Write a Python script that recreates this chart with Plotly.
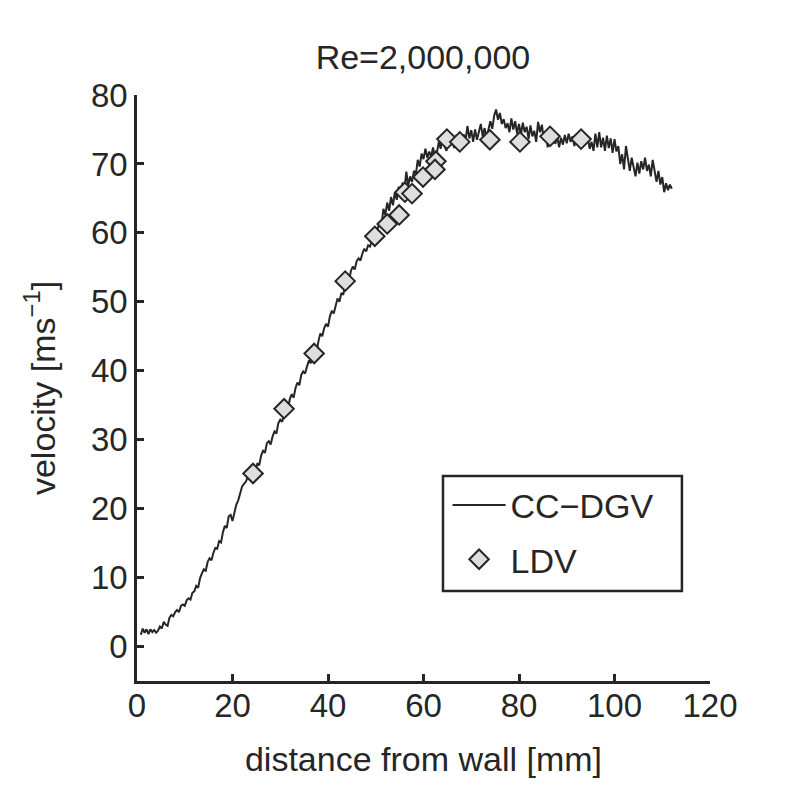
import plotly.graph_objects as go

# CC-DGV profile
dgv_x = [
    0.8, 1.2, 1.6, 2.0, 2.4, 2.8, 3.2, 3.6, 4.0, 4.4, 4.8, 5.2, 5.6, 6.0, 6.4, 6.8, 7.2, 7.6, 8.0, 8.4,
    8.8, 9.2, 9.6, 10.0, 10.4, 10.8, 11.2, 11.6, 12.0, 12.4, 12.8, 13.2, 13.6, 14.0, 14.4, 14.8, 15.2, 15.6, 16.0, 16.4,
    16.8, 17.2, 17.6, 18.0, 18.4, 18.8, 19.2, 19.6, 20.0, 20.4, 20.8, 21.2, 21.6, 22.0, 22.4, 22.8, 23.2, 23.6, 24.0, 24.4,
    24.8, 25.2, 25.6, 26.0, 26.4, 26.8, 27.2, 27.6, 28.0, 28.4, 28.8, 29.2, 29.6, 30.0, 30.4, 30.8, 31.2, 31.6, 32.0, 32.4,
    32.8, 33.2, 33.6, 34.0, 34.4, 34.8, 35.2, 35.6, 36.0, 36.4, 36.8, 37.2, 37.6, 38.0, 38.4, 38.8, 39.2, 39.6, 40.0, 40.4,
    40.8, 41.2, 41.6, 42.0, 42.4, 42.8, 43.2, 43.6, 44.0, 44.4, 44.8, 45.2, 45.6, 46.0, 46.4, 46.8, 47.2, 47.6, 48.0, 48.4,
    48.8, 49.2, 49.6, 50.0, 50.4, 50.8, 51.2, 51.6, 52.0, 52.4, 52.8, 53.2, 53.6, 54.0, 54.4, 54.8, 55.2, 55.6, 56.0, 56.4,
    56.8, 57.2, 57.6, 58.0, 58.4, 58.8, 59.2, 59.6, 60.0, 60.4, 60.8, 61.2, 61.6, 62.0, 62.4, 62.8, 63.2, 63.6, 64.0, 64.4,
    64.8, 65.2, 65.6, 66.0, 66.4, 66.8, 67.2, 67.6, 68.0, 68.4, 68.8, 69.2, 69.6, 70.0, 70.4, 70.8, 71.2, 71.6, 72.0, 72.4,
    72.8, 73.2, 73.6, 74.0, 74.4, 74.8, 75.2, 75.6, 76.0, 76.4, 76.8, 77.2, 77.6, 78.0, 78.4, 78.8, 79.2, 79.6, 80.0, 80.4,
    80.8, 81.2, 81.6, 82.0, 82.4, 82.8, 83.2, 83.6, 84.0, 84.4, 84.8, 85.2, 85.6, 86.0, 86.4, 86.8, 87.2, 87.6, 88.0, 88.4,
    88.8, 89.2, 89.6, 90.0, 90.4, 90.8, 91.2, 91.6, 92.0, 92.4, 92.8, 93.2, 93.6, 94.0, 94.4, 94.8, 95.2, 95.6, 96.0, 96.4,
    96.8, 97.2, 97.6, 98.0, 98.4, 98.8, 99.2, 99.6, 100.0, 100.4, 100.8, 101.2, 101.6, 102.0, 102.4, 102.8, 103.2, 103.6, 104.0, 104.4,
    104.8, 105.2, 105.6, 106.0, 106.4, 106.8, 107.2, 107.6, 108.0, 108.4, 108.8, 109.2, 109.6, 110.0, 110.4, 110.8, 111.2, 111.6, 112.0,
]
dgv_v = [
    1.7, 2.6, 2.0, 2.5, 1.8, 2.5, 2.1, 2.4, 2.0, 2.3, 2.9, 2.6, 3.6, 3.2, 3.0, 4.2, 4.6, 4.4, 5.0, 5.3,
    5.0, 5.9, 6.1, 5.9, 6.7, 7.0, 6.8, 7.8, 8.0, 8.8, 8.5, 9.9, 10.6, 11.2, 11.0, 12.3, 12.8, 12.5, 13.6, 14.3,
    14.2, 15.3, 15.1, 16.6, 17.5, 17.2, 18.9, 19.1, 18.2, 19.5, 20.6, 21.2, 22.3, 23.2, 23.6, 23.9, 24.6, 24.2, 24.9, 25.5,
    25.2, 26.6, 26.3, 27.7, 28.4, 28.1, 29.5, 29.8, 29.3, 30.5, 31.2, 30.9, 32.4, 32.9, 32.6, 33.9, 34.8, 34.4, 35.9, 36.6,
    36.1, 37.5, 38.3, 37.9, 39.4, 39.9, 39.6, 40.6, 41.5, 41.1, 42.3, 42.9, 42.6, 44.3, 45.4, 45.0, 46.2, 46.8, 46.4, 47.9,
    48.7, 48.3, 49.6, 50.5, 50.0, 51.3, 51.0, 52.6, 53.3, 53.0, 54.5, 55.1, 54.7, 55.9, 56.3, 56.0, 57.0, 57.7, 57.3, 58.2,
    58.0, 59.1, 59.9, 59.5, 60.5, 61.6, 61.0, 63.5, 62.6, 64.4, 63.2, 65.2, 64.0, 65.9, 64.8, 66.7, 65.4, 67.3, 66.1, 68.9,
    66.9, 68.2, 67.4, 69.0, 68.5, 70.6, 69.6, 71.5, 70.7, 72.2, 70.9, 71.8, 71.1, 72.4, 70.8, 71.6, 73.2, 72.2, 74.0, 72.6,
    71.9, 73.5, 72.7, 73.9, 72.3, 74.2, 73.0, 74.6, 73.2, 74.3, 73.4, 75.5, 73.7, 74.9, 73.2, 75.0, 73.5, 74.5, 75.8, 74.0,
    75.2, 73.8, 75.0, 76.2, 75.1, 77.0, 77.9, 76.4, 77.4, 75.8, 76.5, 75.2, 75.9, 74.6, 76.6, 75.0, 76.2, 74.4, 75.8, 74.2,
    76.0, 74.6, 75.4, 73.6, 75.6, 74.0, 74.8, 73.2, 76.1, 74.6, 75.7, 73.4, 74.8, 72.4, 74.4, 73.0, 74.9, 72.9, 74.0, 72.4,
    73.8, 72.8, 74.2, 73.0, 74.4, 73.2, 74.0, 72.6, 73.8, 72.7, 74.1, 72.8, 74.4, 73.0, 73.9, 72.2, 73.2, 71.9, 74.4, 72.4,
    74.6, 72.4, 73.8, 71.9, 74.1, 72.3, 73.7, 71.6, 73.6, 71.8, 72.6, 70.0, 71.4, 69.2, 72.6, 70.4, 69.0, 70.9, 69.6, 68.2,
    70.2, 68.6, 70.4, 69.2, 70.9, 69.0, 69.9, 68.2, 70.6, 68.8, 67.4, 69.0, 67.0, 68.1, 65.9, 67.2, 66.2, 67.0, 66.4,
]

# LDV reference points
ldv_x = [24.3, 30.8, 37.1, 43.6, 49.8, 52.4, 54.9, 56.1, 57.6, 59.9, 62.6, 62.4, 64.9, 67.6, 73.9, 80.2, 86.5, 93.0]
ldv_v = [25.1, 34.5, 42.5, 53.0, 59.5, 61.3, 62.6, 65.9, 65.7, 68.1, 70.4, 69.2, 73.6, 73.2, 73.5, 73.2, 74.0, 73.6]

x_ticks = [0, 20, 40, 60, 80, 100, 120]
y_ticks = [0, 10, 20, 30, 40, 50, 60, 70, 80]

INK = "#262626"

fig = go.Figure()

fig.add_trace(go.Scatter(
    x=dgv_x,
    y=dgv_v,
    mode="lines",
    name="CC\u2212DGV",
    legendgroup="dgv",
    line=dict(color=INK, width=2),
))

fig.add_trace(go.Scatter(
    x=ldv_x,
    y=ldv_v,
    mode="markers",
    name="LDV",
    legendgroup="ldv",
    marker=dict(symbol="diamond", size=15, color="#dcdee0", line=dict(color=INK, width=2)),
))

# legend width does not follow entrywidth here, so the box is a separate rectangle
fig.add_shape(
    type="rect",
    xref="paper",
    yref="paper",
    x0=0.534,
    x1=0.951,
    y0=0.1536,
    y1=0.35,
    line=dict(color=INK, width=2.5),
    fillcolor="white",
)

# page body adds an 8px offset, so the figure is a bit smaller than the window
fig.update_layout(
    width=777,
    height=792,
    margin=dict(l=129, r=75, t=87, b=119),
    paper_bgcolor="white",
    plot_bgcolor="white",
    font=dict(family="Liberation Sans", size=33, color=INK),
    title=dict(
        text="Re=2,000,000",
        font=dict(size=34),
        x=0.534,
        xanchor="center",
        y=0.938,
        yanchor="middle",
    ),
    xaxis=dict(
        title=dict(text="distance from wall [mm]", font=dict(size=34), standoff=24),
        range=[0, 120],
        tickvals=x_ticks,
        ticks="inside",
        ticklen=7,
        tickwidth=2.5,
        tickcolor=INK,
        ticklabelstandoff=-6,
        showline=True,
        linecolor=INK,
        linewidth=2.5,
        showgrid=False,
        zeroline=False,
    ),
    yaxis=dict(
        title=dict(text="velocity [ms<sup>\u22121</sup>]", font=dict(size=34), standoff=26),
        range=[-5, 80],
        tickvals=y_ticks,
        ticks="inside",
        ticklen=7,
        tickwidth=2.5,
        tickcolor=INK,
        showline=True,
        linecolor=INK,
        linewidth=2.5,
        showgrid=False,
        zeroline=False,
    ),
    legend=dict(
        x=0.542,
        y=0.349,
        xanchor="left",
        yanchor="top",
        borderwidth=0,
        bgcolor="rgba(0,0,0,0)",
        itemwidth=53,
        tracegroupgap=7,
        font=dict(size=34),
    ),
)

fig.write_html("out.html")
